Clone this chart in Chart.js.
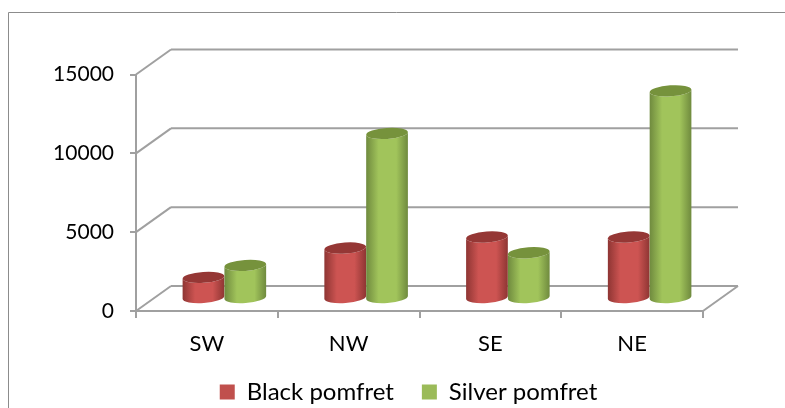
<!DOCTYPE html>
<html>
<head>
<meta charset="utf-8">
<style>
  html, body { margin: 0; padding: 0; background: #fff; }
  #wrap { width: 785px; height: 408px; }
</style>
<script src="https://cdn.jsdelivr.net/npm/chart.js@4"></script>
</head>
<body>
<div id="wrap"><canvas id="chart" width="785" height="408"></canvas></div>
<script>
const categories = ['SW', 'NW', 'SE', 'NE'];
const blackPomfret = [1340, 3200, 3900, 3900];
const silverPomfret = [2100, 10470, 2900, 13170];

const DEPTH_X = 35;
const DEPTH_Y = 25;
const GRID = '#a0a0a0';

function line(ctx, x1, y1, x2, y2) {
  ctx.beginPath();
  ctx.moveTo(x1, y1);
  ctx.lineTo(x2, y2);
  ctx.stroke();
}

function bodyGradient(ctx, left, right, dark, mid) {
  const g = ctx.createLinearGradient(left, 0, right, 0);
  g.addColorStop(0, dark);
  g.addColorStop(0.3, mid);
  g.addColorStop(0.72, mid);
  g.addColorStop(1, dark);
  return g;
}

// cylinder tilted a little, the ends are rotated ellipses
function cylinder(ctx, bar, colors) {
  const cx = bar.x + DEPTH_X / 2;
  const top = bar.y - DEPTH_Y / 2;
  const base = bar.base - DEPTH_Y / 2;
  const rx = bar.width / 2;
  const ry = 5.5;
  const tilt = -0.07;
  ctx.save();
  ctx.fillStyle = bodyGradient(ctx, cx - rx, cx + rx, colors.dark, colors.mid);
  ctx.beginPath();
  ctx.ellipse(cx, base, rx, ry, tilt, 0, Math.PI);
  ctx.ellipse(cx, top, rx, ry, tilt, Math.PI, 0, true);
  ctx.closePath();
  ctx.fill();
  ctx.fillStyle = colors.top;
  ctx.beginPath();
  ctx.ellipse(cx, top, rx, ry, tilt, 0, Math.PI * 2);
  ctx.fill();
  ctx.restore();
}

const palette = [
  { dark: '#8e3533', mid: '#cd5452', top: '#953735' },
  { dark: '#6f8a3e', mid: '#a1c45b', top: '#76923c' },
];

const wall3d = {
  id: 'wall3d',
  beforeDraw(chart) {
    const { ctx, scales: { x, y } } = chart;
    const left = x.left, right = x.right, floor = y.getPixelForValue(0);
    ctx.save();
    // outer frame, only top and left sides are in the picture
    ctx.strokeStyle = '#8c8c8c';
    ctx.lineWidth = 1;
    line(ctx, 8.5, 12.5, 785, 12.5);
    line(ctx, 8.5, 12.5, 8.5, 408);
    ctx.strokeStyle = GRID;
    ctx.lineWidth = 2;
    y.ticks.forEach(t => {
      const py = y.getPixelForValue(t.value);
      line(ctx, left, py, left + DEPTH_X, py - DEPTH_Y);
      line(ctx, left + DEPTH_X, py - DEPTH_Y, right + DEPTH_X, py - DEPTH_Y);
    });
    line(ctx, right, floor, right + DEPTH_X, floor - DEPTH_Y);
    ctx.restore();
  },
  beforeDatasetsDraw(chart) {
    const { ctx } = chart;
    chart.data.datasets.forEach((ds, i) => {
      chart.getDatasetMeta(i).data.forEach(bar => cylinder(ctx, bar, palette[i]));
    });
  },
  // the cylinders above replace the flat bars
  beforeDatasetDraw() {
    return false;
  },
};

new Chart(document.getElementById('chart'), {
  type: 'bar',
  data: {
    labels: categories,
    datasets: [
      { label: 'Black pomfret', data: blackPomfret, backgroundColor: '#c0504d' },
      { label: 'Silver pomfret', data: silverPomfret, backgroundColor: '#9bbb59' },
    ],
  },
  plugins: [wall3d],
  options: {
    responsive: false,
    animation: false,
    // left padding also centres the legend under the plot like the original
    layout: { padding: { left: 32, right: 0, top: 74.5, bottom: -6 } },
    datasets: { bar: { categoryPercentage: 0.59, barPercentage: 1 } },
    scales: {
      x: {
        afterFit(s) { s.height = 41; },
        grid: { drawOnChartArea: false, color: GRID, lineWidth: 2, tickLength: 7, offset: true },
        border: { color: GRID, width: 2 },
        ticks: { color: '#000', padding: 12.5, font: { family: 'Lato', size: 22 } },
      },
      y: {
        min: 0,
        max: 15000,
        afterFit(s) { s.width = 104; },
        grid: { drawOnChartArea: false, color: GRID, lineWidth: 2, tickLength: 6 },
        border: { color: GRID, width: 2 },
        ticks: {
          stepSize: 5000,
          color: '#000',
          padding: 16,
          font: { family: 'Lato', size: 21 },
          callback: v => String(v),
        },
      },
      // empty axis, keeps the plot clear of the right side
      spacer: {
        position: 'right',
        afterFit(s) { s.width = 82; },
        grid: { display: false },
        border: { display: false },
        ticks: { display: false },
      },
    },
    plugins: {
      tooltip: { enabled: false },
      legend: {
        position: 'bottom',
        labels: { color: '#000', boxWidth: 15, boxHeight: 15, padding: 28, font: { family: 'Lato', size: 24 } },
      },
    },
  },
});
</script>
</body>
</html>
